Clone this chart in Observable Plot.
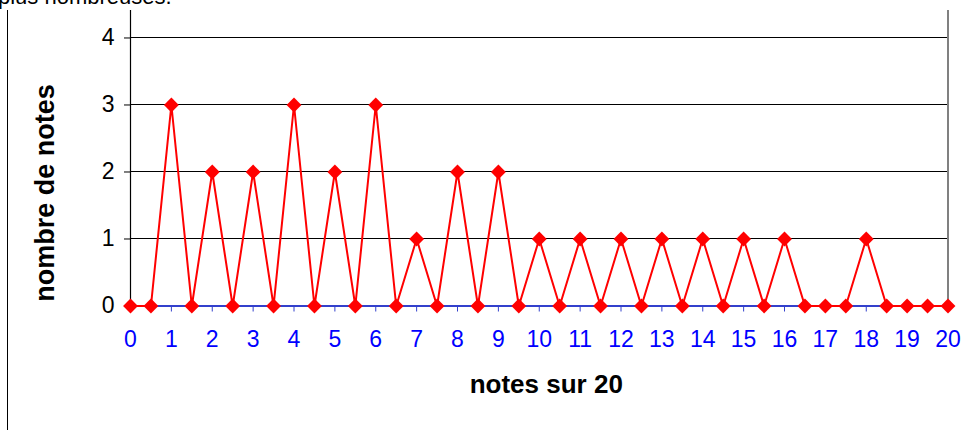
<!DOCTYPE html>
<html><head><meta charset="utf-8">
<script src="https://cdn.jsdelivr.net/npm/d3@7"></script>
<script src="https://cdn.jsdelivr.net/npm/@observablehq/plot@0.6"></script>
<style>
body{margin:0;background:#fff;overflow:hidden}
#wrap{position:relative;width:972px;height:430px;overflow:hidden}
#title{position:absolute;left:-2px;top:-14px;font:22px "Liberation Sans",Arial,sans-serif;line-height:22px;white-space:nowrap;color:#000}
#leftline{position:absolute;left:7px;top:10px;width:1px;height:420px;background:#000}
#chart{position:absolute;left:0;top:0}
</style></head><body>
<div id="wrap"><div id="chart"></div><div id="title">plus nombreuses.</div><div id="leftline"></div></div>
<script>
const notes = [0,0.5,1,1.5,2,2.5,3,3.5,4,4.5,5,5.5,6,6.5,7,7.5,8,8.5,9,9.5,10,10.5,11,11.5,12,12.5,13,13.5,14,14.5,15,15.5,16,16.5,17,17.5,18,18.5,19,19.5,20];
const counts = [0,0,3,0,2,0,2,0,3,0,2,0,3,0,1,0,2,0,2,0,1,0,1,0,1,0,1,0,1,0,1,0,1,0,0,0,1,0,0,0,0];
const xTicks = [0,1,2,3,4,5,6,7,8,9,10,11,12,13,14,15,16,17,18,19,20];
const yTicks = [0,1,2,3,4];
const xTitle = "notes sur 20";
const yTitle = "nombre de notes";

const data = notes.map((n, i) => ({note: n, count: counts[i]}));

const chart = Plot.plot({
  width: 972, height: 430,
  marginTop: 10, marginBottom: 124.5, marginLeft: 130, marginRight: 24.5,
  style: {fontFamily: '"Liberation Sans", Arial, sans-serif', background: "transparent"},
  x: {domain: [0, 20]},
  y: {domain: [0, 4.41]},
  marks: [
    Plot.gridY(yTicks.filter(d => d > 0), {stroke: "#000", strokeOpacity: 1, strokeWidth: 1, shapeRendering: "crispEdges"}),
    Plot.ruleX([0], {stroke: "#000", strokeWidth: 1.2}),
    Plot.ruleX([20], {stroke: "#808080", strokeWidth: 2}),
    Plot.ruleY([0], {stroke: "#3340cc", strokeWidth: 2}),
    Plot.axisX(xTicks, {tickSize: 6, tickPadding: 19, fontSize: 23, stroke: "#3340cc", fill: "#0000ff", label: null, tickFormat: d => String(d)}),
    Plot.axisY(yTicks, {tickSize: 6, tickPadding: 10, fontSize: 23, stroke: "#000", fill: "#000", label: null, tickFormat: d => String(d)}),
    Plot.text([xTitle], {frameAnchor: "bottom", textAnchor: "middle", lineAnchor: "middle", dx: 7, dy: 78.5, fontSize: 26, fontWeight: "bold", fill: "#000"}),
    Plot.text([yTitle], {frameAnchor: "left", textAnchor: "middle", lineAnchor: "middle", rotate: -90, dx: -84.7, dy: 34.7, fontSize: 27, fontWeight: "bold", fill: "#000"}),
    Plot.line(data, {x: "note", y: "count", stroke: "#ff0000", strokeWidth: 2}),
    Plot.dot(data, {x: "note", y: "count", symbol: "diamond2", r: 6.7, fill: "#ff0000", stroke: "none"})
  ]
});
document.getElementById("chart").appendChild(chart);
</script>
</body></html>
